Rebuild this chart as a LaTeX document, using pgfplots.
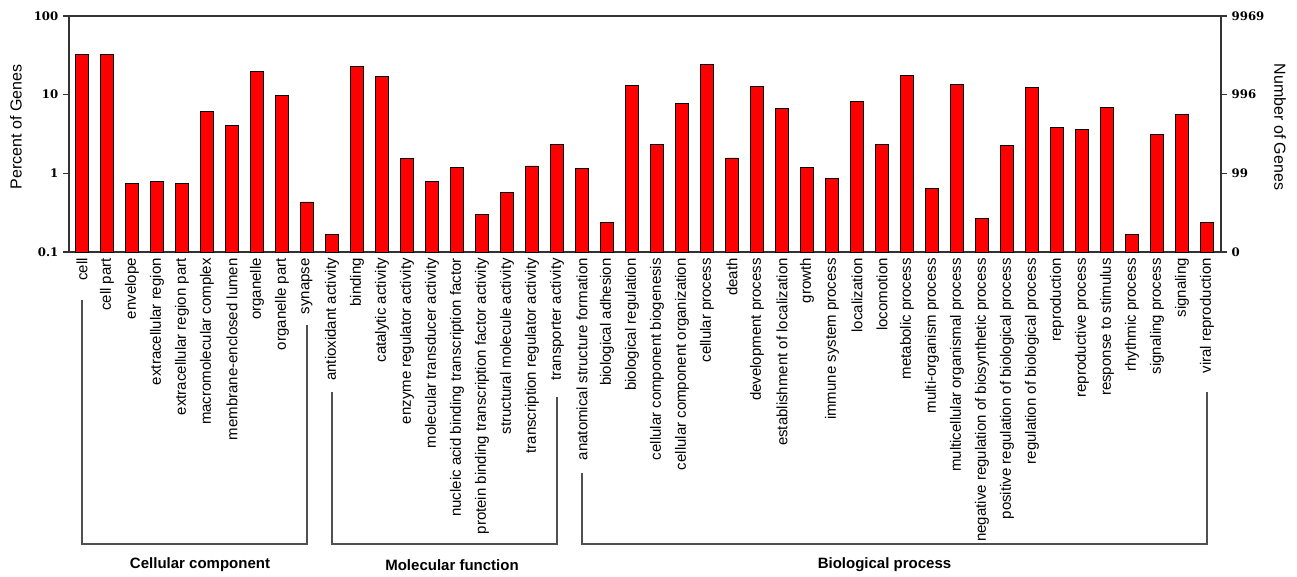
\documentclass[border=0pt]{standalone}
\usepackage{fontspec}
\setmainfont{Liberation Sans}
\newfontfamily\numfont{DejaVu Serif}
\usepackage{pgfplots}
\usepackage{pgfplotstable}
\pgfplotsset{compat=1.18}

% GO level-2 categories: percent of annotated genes
\pgfplotstableread{
idx val
0 32.7
1 32.7
2 0.746
3 0.79
4 0.746
5 6.2
6 4.03
7 19.7
8 9.7
9 0.433
10 0.167
11 22.6
12 17.2
13 1.55
14 0.79
15 1.19
16 0.299
17 0.569
18 1.24
19 2.36
20 1.15
21 0.237
22 13.1
23 2.36
24 7.67
25 24.2
26 1.57
27 12.6
28 6.68
29 1.19
30 0.857
31 8.13
32 2.33
33 17.7
34 0.645
35 13.5
36 0.268
37 2.27
38 12.2
39 3.88
40 3.62
41 6.88
42 0.167
43 3.16
44 5.6
45 0.235
}\godata

\definecolor{axisgray}{HTML}{333333}
\definecolor{bracketgray}{HTML}{505050}

\begin{document}
\begin{tikzpicture}
\begin{axis}[
  scale only axis, width=864pt, height=177pt,
  ymode=log, ymin=0.1, ymax=100,
  xmin=-0.52, xmax=45.56,
  yminorticks=false,
  tick align=outside, major tick length=4.5pt,
  axis line style={axisgray, line width=0.9pt},
  every tick/.style={axisgray, line width=0.9pt},
  y tick label style={font=\numfont\bfseries\fontsize{8.8}{10}\selectfont},
  name=main,
  log origin y=infty,
  ybar, bar width=0.5,
  xtick={0,...,45},
  xticklabels={cell,cell part,envelope,extracellular region,extracellular region part,macromolecular complex,membrane-enclosed lumen,organelle,organelle part,synapse,antioxidant activity,binding,catalytic activity,enzyme regulator activity,molecular transducer activity,nucleic acid binding transcription factor,protein binding transcription factor activity,structural molecule activity,transcription regulator activity,transporter activity,anatomical structure formation,biological adhesion,biological regulation,cellular component biogenesis,cellular component organization,cellular process,death,development process,establishment of localization,growth,immune system process,localization,locomotion,metabolic process,multi-organism process,multicellular organismal process,negative regulation of biosynthetic process,positive regulation of biological process,regulation of biological process,reproduction,reproductive process,response to stimulus,rhythmic process,signaling process,signaling,viral reproduction},
  x tick label style={rotate=90, anchor=east, inner sep=0pt, font=\fontsize{11.25}{12}\selectfont},
  major x tick style={draw=none},
  ytick={0.1,1,10,100}, yticklabels={0.1,1,10,100},
  ytick pos=left, xtick pos=bottom,
  ylabel={Percent of Genes},
  every axis y label/.style={at={(rel axis cs:0,0.53)}, xshift=-39.75pt, rotate=90, anchor=center, font=\fontsize{12}{14}\selectfont},
  clip=false,
]
\addplot[fill=red, draw=black, line width=0.6pt] table[x=idx, y=val] {\godata};

% group brackets under the category labels
\draw[bracketgray, line width=1.1pt]
  ([yshift=-36pt]axis cs:0,0.1) -- ([yshift=-219pt]axis cs:0,0.1)
  -- ([yshift=-219pt]axis cs:9,0.1) -- ([yshift=-54.75pt]axis cs:9,0.1);
\draw[bracketgray, line width=1.1pt]
  ([yshift=-105pt]axis cs:10,0.1) -- ([yshift=-219pt]axis cs:10,0.1)
  -- ([yshift=-219pt]axis cs:19,0.1) -- ([yshift=-108.75pt]axis cs:19,0.1);
\draw[bracketgray, line width=1.1pt]
  ([yshift=-165.75pt]axis cs:20,0.1) -- ([yshift=-219pt]axis cs:20,0.1)
  -- ([yshift=-219pt]axis cs:45,0.1) -- ([yshift=-105pt]axis cs:45,0.1);
\node[font=\bfseries\fontsize{11.25}{12}\selectfont] at ([yshift=-234.75pt]axis cs:4.72,0.1) {Cellular component};
\node[font=\bfseries\fontsize{11.25}{12}\selectfont] at ([yshift=-234.75pt]axis cs:14.8,0.1) {Molecular function};
\node[font=\bfseries\fontsize{11.25}{12}\selectfont] at ([yshift=-234.75pt]axis cs:32.1,0.1) {Biological process};
\end{axis}

% gene counts on the right-hand scale
\begin{axis}[
  scale only axis, width=864pt, height=177pt,
  ymode=log, ymin=0.1, ymax=100,
  xmin=-0.52, xmax=45.56,
  yminorticks=false,
  tick align=outside, major tick length=4.5pt,
  axis line style={axisgray, line width=0.9pt},
  every tick/.style={axisgray, line width=0.9pt},
  y tick label style={font=\numfont\bfseries\fontsize{8.8}{10}\selectfont},
  axis y line*=right, axis x line=none,
  ytick={0.1,1,10,100}, yticklabels={0,99,996,9969},
  ylabel={Number of Genes},
  every axis y label/.style={at={(rel axis cs:1,0.53)}, xshift=44.25pt, rotate=-90, anchor=center, font=\fontsize{12}{14}\selectfont},
]
\addplot[draw=none, forget plot] coordinates {(0,1)};
\end{axis}

\pgfresetboundingbox
\path[use as bounding box] ([xshift=-51.75pt,yshift=-243pt]main.south west) rectangle ++(972.75pt,432pt);
\end{tikzpicture}
\end{document}
